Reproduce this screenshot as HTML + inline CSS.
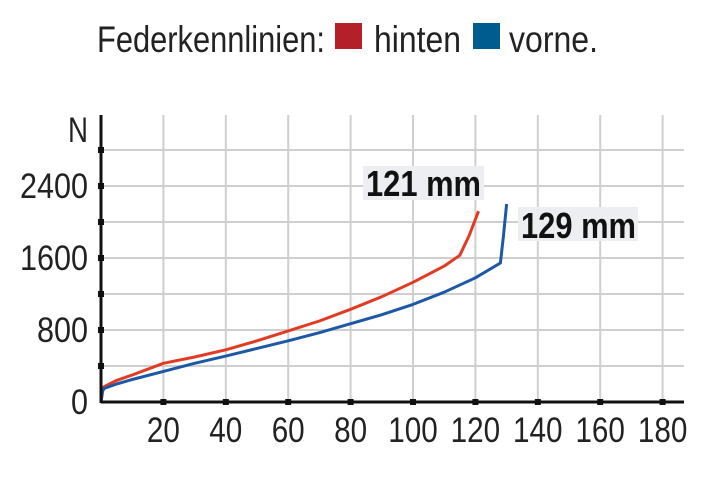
<!DOCTYPE html>
<html><head><meta charset="utf-8"><style>
html,body{margin:0;padding:0;background:#fff;}
svg{display:block;font-family:"Liberation Sans Narrow","Liberation Sans",sans-serif;}
</style></head><body>
<svg id="chart" width="712" height="486" viewBox="0 0 712 486">
  <g>
    <text x="97" y="52" font-size="37" fill="#222" textLength="228" lengthAdjust="spacingAndGlyphs">Federkennlinien:</text>
    <rect x="335" y="23" width="27" height="26" fill="#b3202a"/>
    <text x="374" y="52" font-size="37" fill="#222" textLength="87" lengthAdjust="spacingAndGlyphs">hinten</text>
    <rect x="473" y="23" width="27" height="26" fill="#005b8f"/>
    <text x="509" y="52" font-size="37" fill="#222" textLength="89" lengthAdjust="spacingAndGlyphs">vorne.</text>
  </g>
  <g id="grid"></g>
  <g id="series"></g>
  <g id="axes"></g>
  <g>
    <rect x="363" y="166" width="121" height="34" fill="#eceef1"/>
    <text x="366" y="196" font-size="36" font-weight="bold" fill="#111" textLength="115" lengthAdjust="spacingAndGlyphs">121 mm</text>
    <rect x="518" y="207" width="120" height="34" fill="#eceef1"/>
    <text x="521" y="238" font-size="36" font-weight="bold" fill="#111" textLength="115" lengthAdjust="spacingAndGlyphs">129 mm</text>
  </g>
</svg>
<script>
const xTicks = [20, 40, 60, 80, 100, 120, 140, 160, 180];
const yTickLabels = [0, 800, 1600, 2400];
const yGrid = [400, 800, 1200, 1600, 2000, 2400, 2800];
const hintenX = [0, 0.5, 1, 5, 10, 20, 30, 40, 50, 60, 70, 80, 90, 100, 110, 115, 118, 121];
const hintenY = [0, 130, 170, 240, 300, 430, 500, 580, 680, 790, 900, 1030, 1170, 1330, 1510, 1630, 1850, 2120];
const vorneX = [0, 0.5, 1, 5, 10, 20, 30, 40, 50, 60, 70, 80, 90, 100, 110, 120, 128, 129, 130];
const vorneY = [0, 120, 150, 200, 250, 340, 430, 510, 595, 680, 770, 870, 970, 1085, 1220, 1380, 1545, 1850, 2200];

const NS = "http://www.w3.org/2000/svg";
const X0 = 101, PXX = 3.12, Y0 = 402, PXY = 36 / 400;
const sx = v => X0 + v * PXX;
const sy = v => Y0 - v * PXY;
function mk(tag, attrs, parent) {
  const e = document.createElementNS(NS, tag);
  for (const k in attrs) e.setAttribute(k, attrs[k]);
  parent.appendChild(e);
  return e;
}
const grid = document.getElementById('grid');
const axes = document.getElementById('axes');
const series = document.getElementById('series');

xTicks.forEach(v => {
  const l = mk('line', {x1: sx(v), x2: sx(v), y1: 115, y2: Y0, stroke: '#cfcfcf', 'stroke-width': 2}, grid);
  
  
});
yGrid.forEach(v => {
  const l = mk('line', {x1: X0, x2: 684, y1: sy(v), y2: sy(v), stroke: '#cfcfcf', 'stroke-width': 2}, grid);
  
  
});

function drawSeries(xs, ys, color, name) {
  const d = xs.map((x, i) => (i ? 'L' : 'M') + sx(x).toFixed(1) + ',' + sy(ys[i]).toFixed(1)).join(' ');
  const p = mk('path', {d: d, fill: 'none', stroke: color, 'stroke-width': 3, 'stroke-linejoin': 'round'}, series);
  
  
}
drawSeries(hintenX, hintenY, '#e23b24', 'line-hinten');
drawSeries(vorneX, vorneY, '#1d58a6', 'line-vorne');

const xa = mk('line', {x1: X0, x2: 684, y1: Y0, y2: Y0, stroke: '#111', 'stroke-width': 3}, axes);


const ya = mk('line', {x1: X0, x2: X0, y1: 115, y2: Y0 + 1, stroke: '#111', 'stroke-width': 3}, axes);



xTicks.forEach(v => {
  const r = mk('rect', {x: sx(v) - 3, y: Y0 - 3, width: 6, height: 6, fill: '#111'}, axes);
  
  
  const s = String(v);
  const t = mk('text', {x: sx(v), y: 442, 'font-size': 35, fill: '#222', 'text-anchor': 'middle', textLength: s.length * 16.5, lengthAdjust: 'spacingAndGlyphs'}, axes);
  t.textContent = s;
  
  
});
yGrid.forEach(v => {
  const r = mk('rect', {x: X0 - 3, y: sy(v) - 3, width: 6, height: 6, fill: '#111'}, axes);
  
  
});
yTickLabels.forEach(v => {
  const s = String(v);
  const t = mk('text', {x: 88, y: sy(v) + 12, 'font-size': 35, fill: '#222', 'text-anchor': 'end', textLength: s.length * 17, lengthAdjust: 'spacingAndGlyphs'}, axes);
  t.textContent = s;
  
  
});
const un = mk('text', {x: 88, y: 142, 'font-size': 35, fill: '#222', 'text-anchor': 'end', textLength: 20, lengthAdjust: 'spacingAndGlyphs'}, axes);
un.textContent = 'N';


</script>
</body></html>
